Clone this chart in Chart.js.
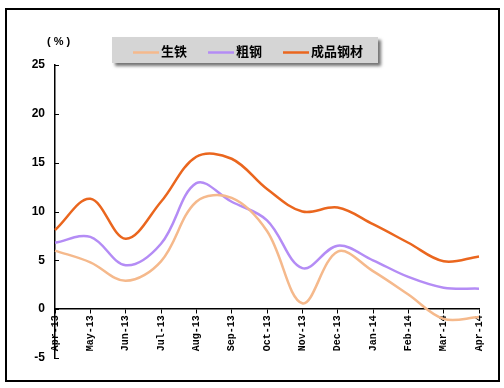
<!DOCTYPE html>
<html>
<head>
<meta charset="utf-8">
<script src="https://cdn.jsdelivr.net/npm/chart.js@4"></script>
<style>
  html, body { margin: 0; padding: 0; background: #fff; }
  #wrap { width: 504px; height: 388px; position: relative; }
</style>
</head>
<body>
<div id="wrap"><canvas id="chart1" width="504" height="388"></canvas></div>
<script>
// months
const labels = ['Apr-13', 'May-13', 'Jun-13', 'Jul-13', 'Aug-13', 'Sep-13', 'Oct-13',
                'Nov-13', 'Dec-13', 'Jan-14', 'Feb-14', 'Mar-14', 'Apr-14'];
// 生铁
const pigIron = [6.0, 4.8, 2.9, 4.9, 11.0, 11.4, 8.0, 0.6, 5.9, 3.9, 1.5, -1.0, -0.8];
// 粗钢
const crudeSteel = [6.8, 7.4, 4.5, 6.7, 12.9, 11.0, 9.1, 4.2, 6.5, 5.0, 3.3, 2.2, 2.1];
// 成品钢材
const finishedSteel = [8.1, 11.3, 7.2, 11.0, 15.6, 15.4, 12.3, 10.0, 10.4, 8.7, 6.8, 4.9, 5.4];
const yTicks = [-5, 0, 5, 10, 15, 20, 25];

// frame, unit label, inner y ticks, legend box
const decor = {
    id: 'decor',
    afterDraw(chart) {
        const c = chart.ctx;
        const y = chart.scales.y;
        const area = chart.chartArea;
        c.save();
        c.strokeStyle = '#000';
        c.lineWidth = 2;
        c.strokeRect(6, 9, 493, 372);

        // ticks pointing into the plot
        c.lineWidth = 1;
        c.beginPath();
        yTicks.forEach(v => {
            const py = Math.round(y.getPixelForValue(v)) + 0.5;
            c.moveTo(area.left, py);
            c.lineTo(area.left + 4, py);
        });
        c.stroke();

        c.fillStyle = '#000';
        c.font = 'bold 11px "Liberation Sans"';
        c.textAlign = 'left';
        c.textBaseline = 'middle';
        c.fillText('( % )', 47, 42);

        // legend
        c.shadowColor = 'rgba(0,0,0,0.55)';
        c.shadowBlur = 3;
        c.shadowOffsetX = 3;
        c.shadowOffsetY = 3;
        c.fillStyle = '#d5d5d5';
        c.fillRect(112, 37, 266, 26);
        c.restore();

        c.save();
        const xs = [133, 208, 283];
        c.font = 'bold 13px "Noto Sans CJK SC"';
        c.textBaseline = 'middle';
        chart.data.datasets.forEach((ds, i) => {
            c.strokeStyle = ds.borderColor;
            c.lineWidth = 2.5;
            c.beginPath();
            c.moveTo(xs[i], 52.5);
            c.lineTo(xs[i] + 26, 52.5);
            c.stroke();
            c.fillStyle = '#000';
            c.fillText(ds.label, xs[i] + 28, 51);
        });
        c.restore();
    }
};

const ctx = document.getElementById('chart1');

const steelChart = new Chart(ctx, {
    type: 'line',
    data: {
        labels: labels,
        datasets: [{
            label: '生铁',
            data: pigIron,
            borderColor: '#f5b98c',
            borderWidth: 2.5,
            pointRadius: 0,
            tension: 0.36,
            fill: false
        },
        {
            label: '粗钢',
            data: crudeSteel,
            borderColor: '#b48cf5',
            borderWidth: 2.5,
            pointRadius: 0,
            tension: 0.36,
            fill: false
        },
        {
            label: '成品钢材',
            data: finishedSteel,
            borderColor: '#ea661e',
            borderWidth: 2.5,
            pointRadius: 0,
            tension: 0.36,
            fill: false
        }]
    },
    options: {
        responsive: false,
        animation: false,
        layout: { padding: { left: 0, top: 65, right: 25, bottom: 30 } },
        plugins: {
            legend: { display: false },
            tooltip: { enabled: false }
        },
        scales: {
            x: {
                position: { y: 0 },
                grid: { drawOnChartArea: false, drawTicks: true, tickLength: 4, color: '#000' },
                border: { color: '#000', width: 1.5 },
                ticks: {
                    autoSkip: false,
                    minRotation: 90,
                    maxRotation: 90,
                    padding: 2,
                    color: '#000',
                    font: { family: '"Liberation Mono"', weight: 'bold', size: 10 }
                }
            },
            y: {
                min: -5,
                max: 25,
                afterFit(s) { s.width = 55; },
                afterBuildTicks(s) { s.ticks = yTicks.map(v => ({ value: v })); },
                grid: { drawOnChartArea: false, drawTicks: false },
                border: { color: '#000', width: 1.5 },
                ticks: {
                    padding: 10,
                    color: '#000',
                    font: { family: '"Liberation Sans"', weight: 'bold', size: 12 }
                }
            }
        }
    },
    plugins: [decor]
});
</script>
</body>
</html>
